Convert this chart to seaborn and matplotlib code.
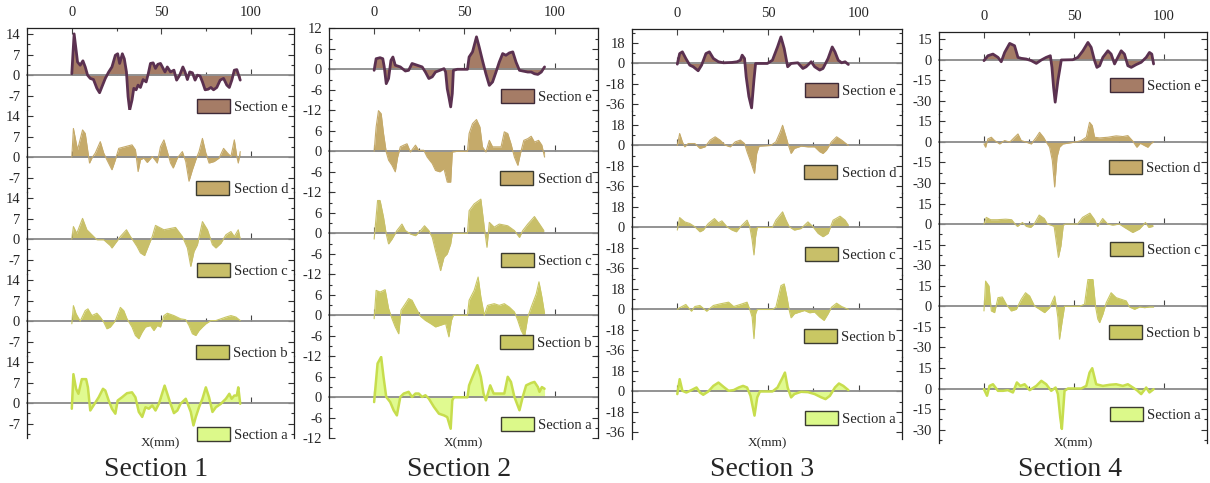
import matplotlib
matplotlib.use("Agg")
import matplotlib.pyplot as plt
from matplotlib.patches import Patch
from matplotlib.ticker import AutoMinorLocator, FixedLocator
import seaborn as sns

sns.set_theme(style="ticks")
plt.rcParams["font.family"] = ["Liberation Serif", "DejaVu Serif"]

# ---------------- data: (x in mm, deviation) ----------------
# Section 1
s1_e = [(0, 0.5), (1.3, 14.1), (3.2, 4.5), (4.7, 3.4), (6.2, 4.9), (7.5, 2.8), (8.8, 0), (10.3, -1.1), (12.1, -1.5),
        (14, -4.5), (15.5, -6), (16.8, -4), (18.7, -1.1), (20.6, 1.1), (22.4, 2.8), (24.3, 6.8), (25.6, 7.3),
        (26.7, 4), (28.2, 7.3), (29.3, 5.6), (30.5, 1.1), (31.4, -7.3), (32.3, -11.9), (33.6, -8.5), (34.6, -4.5),
        (35.9, -5), (37, -3.4), (38.3, -4.2), (39.8, -1.5), (41.5, -2.3), (42.6, 0.3), (43.9, 4), (45.4, 4.2),
        (46.7, 2.3), (48, 3.7), (49.5, 4), (50.8, 2.5), (52, 1.1), (53.3, 2.8), (55.1, 1.1), (57, 1.7), (58.5, -1.7),
        (60.2, 0), (62, 2.8), (63.2, 1.1), (64.5, -1.5), (65.8, 1.1), (67.3, 0.8), (68.8, -1.7), (70.1, 0),
        (71.6, -0.3), (72.9, -2.3), (74.4, -5), (76.1, -4.8), (77.6, -4.2), (79.1, -5), (80.9, -4.2), (82.8, -1.7),
        (84.7, -1.1), (86.5, -3.4), (87.9, -4.2), (89.3, -1.7), (90.7, 1.7), (92.1, 1.9), (93.1, 0), (94, -1.7)]
s1_d = [(0, 0), (0.9, 9.8), (3.2, 2.5), (6, 9.3), (7.5, 8.1), (9.9, -2), (11.2, -0.3), (13.1, 1.4), (15.9, 5.3),
        (17.8, 1.4), (19.6, -0.9), (22.4, -4.3), (24.3, -0.9), (26.2, 3), (29.9, 3.6), (33.6, 4.2), (35.5, 2.5),
        (37, -4.9), (38.3, -0.9), (40.2, -0.3), (42.1, -1.8), (44.9, 0.2), (46.4, -0.9), (47.7, -2), (49.5, 3.6),
        (51.4, 5.9), (53.3, 1.9), (55.1, -2), (56.6, -3.7), (58.9, -0.3), (61.7, 1.9), (63.6, -1.5), (65.4, -8.2),
        (67.3, -4.3), (69.2, -0.9), (71, 1.9), (72.9, 6.4), (74.8, 1.4), (76.6, -2), (79.4, -1.5), (82.2, -0.3),
        (84.7, 3), (86.9, 1.4), (88.8, 0.2), (90.7, 5.9), (92.1, 0.2), (92.9, -2), (94, 1.9)]
s1_c = [(0, 0), (0.9, 4.3), (2.8, 2), (6, 7.1), (8.4, 3.2), (11.2, 1.5), (14, -0.2), (17.8, -0.2), (21.5, -2.2),
        (22.4, -3), (24.3, -1.4), (27.1, 0.9), (30.5, 3.2), (32.7, 0.9), (34.6, -0.8), (36.4, -2.5), (38.3, -4.7),
        (40.6, -5.6), (43, -1.9), (44.9, 0.9), (46.7, 4.7), (51.4, 3.2), (57.9, 4), (61.7, 0.9), (64.5, -3),
        (66.4, -9.3), (68.2, -4.2), (70.1, -1.9), (72.9, 6), (75.7, 3.2), (78.5, -1.9), (80.4, -3), (83.2, -1.4),
        (86, 1.5), (88.8, 2.6), (90.7, 0.9), (92.9, 3.2), (94, 0)]
s1_b = [(0, -0.9), (0.9, 5.3), (2.4, 2.5), (4.7, 0), (7.5, 3.6), (9, 4.2), (11.2, 1.9), (14, 2.7), (15.9, 1.4),
        (17.8, -0.3), (19.6, -2.6), (21.5, -2), (24.3, 0.2), (27.1, 4.7), (29, 3.6), (30.8, 0.8), (33.6, -2),
        (35.5, -4.9), (37.4, -6), (39.3, -3.7), (41.1, -2), (43.9, -1.5), (45.8, -3.2), (47.7, -1.5), (49.5, -2),
        (51.4, 1.9), (53.3, 2.7), (57, 1.9), (60.7, 0.8), (63.6, 0.5), (65.4, -1.5), (67.3, -4.3), (69.2, -4.9),
        (71, -3.2), (72.9, -2), (74.8, -0.9), (77.6, 0.2), (80.4, 0.2), (83.2, 0.8), (86, 1.4), (88.8, 1.9),
        (91.6, 1.4), (94, 0.2)]
s1_a = [(0, -1.9), (0.9, 9.9), (2.4, 4.9), (3.7, 3.2), (5.6, 8.2), (8, 8.2), (9, 5.4), (10.3, -2.5), (12.1, -0.8),
        (15, 2), (17.4, 4.9), (18.7, 4.3), (20.6, 0.9), (22.4, -1.9), (24.3, -3.6), (25.6, 0.9), (28, 2),
        (30.8, 3.4), (33.6, 3.7), (35.5, 2), (37.4, -3), (39.3, -4.7), (41.1, -1.4), (43, -1.9), (44.9, -0.8),
        (46.7, -2.5), (48.6, -0.2), (51.8, 6), (53.3, 3.2), (55.1, -0.2), (57, -3.4), (58.9, -2.5), (60.7, -0.2),
        (63.6, 1.5), (66.4, -3), (67.9, -7.6), (69.2, -4.7), (71, -1.4), (72.9, 1.5), (74.8, 5.4), (76.6, 2),
        (78.5, -3), (80.4, -1.4), (83.2, -0.2), (86, 1.5), (87.9, 3.2), (89.2, 1.5), (90.7, 2.6), (92.1, 2.6),
        (92.9, 5.4), (94, -0.2)]
# Section 2
s2_e = [(0, -0.3), (1.1, 3.1), (3.3, 3.4), (4.8, 3.1), (5.6, 0.7), (6.7, -4.2), (8, -2.7), (9.3, 2.6), (10.4, 3.6),
        (11.7, 1.2), (14.5, 0.7), (17.3, -0.5), (19.1, -0.3), (21, 1.7), (23.8, 1.2), (26.6, 0.7), (28.4, -0.8),
        (30.3, -2.7), (32.2, -2.2), (34, -0.8), (36.4, -0.3), (38.7, 0.2), (39.6, -0.8), (40.5, -5.7), (41.4, -8.1),
        (42.4, -11), (43.3, -7.1), (43.9, -0.3), (46.1, 0), (51.7, 0), (52.6, 3.6), (54.5, 5.1), (56.7, 9.5),
        (58.2, 6.5), (60, 2.6), (61.9, -1.3), (63.8, -4.7), (65.6, -3.7), (67.5, -0.8), (69.3, 2.1), (71.2, 4.6),
        (73, 4.1), (74.9, 4.8), (76.8, 5.1), (78.6, 2.1), (80.5, -0.3), (82.3, -0.5), (85.1, -0.8), (87, -0.8),
        (88.8, -1.3), (90.7, -1.5), (92.6, -0.8), (94.4, 0.7)]
s2_d = [(0, 0), (1.1, 7.1), (2.4, 11.9), (3.9, 11), (5.2, 5.2), (6.7, -0.2), (8, -2.6), (9.9, -4.1), (11.7, -6),
        (13, -1.7), (14.5, 1.3), (16.4, 1.8), (18.2, 2.2), (20.1, -0.2), (22.9, 1.8), (24.7, 0.3), (27.5, 0.3),
        (29.4, -1.7), (32.2, -3.6), (34, -5.6), (36.4, -6), (38.7, -5.1), (40.5, -9), (42.4, -9), (43.3, -0.2),
        (46.1, 0), (51.7, 0), (52.6, 5.2), (54.5, 8.1), (56.7, 9.3), (58.6, 7.1), (60, 1.3), (61.9, -0.2),
        (63.8, 3.2), (65.6, 1.3), (68.4, 1.3), (70.3, 1.3), (72.1, 5.7), (74, 5.2), (75.8, 2.2), (77.7, -1.7),
        (79.6, -4.1), (81, -0.7), (82.9, 3.2), (85.1, 3.7), (87, 4.4), (88.8, 2.7), (91.1, 3.2), (92.9, 1.8),
        (94.4, -1.7)]
s2_c = [(0, -1.7), (1.9, 9.6), (3.3, 9.6), (5.2, 4.7), (6.7, -0.2), (8, -3.1), (9.9, -1.7), (12.6, 0.8),
        (15.4, 2.7), (17.3, 0.8), (20.1, -0.2), (22.9, -0.7), (25.7, 0.8), (27.9, 2.2), (30.3, 0.8), (32.2, -1.2),
        (34, -5.1), (35.9, -9), (36.8, -10.9), (38.7, -7), (40.5, -6), (42.4, -3.1), (43.3, 0), (51.7, 0),
        (52.6, 6.6), (55.4, 8.6), (59.1, 10), (61, 1.8), (62.5, -4.1), (63.8, 3.2), (66.5, 1.8), (69.3, 2.7),
        (74, 2.2), (77.7, 0.8), (80.5, -1.2), (82.3, 0.8), (85.1, 2.7), (88.8, 4.9), (91.6, 2.7), (94, 0.8)]
s2_b = [(0, -1), (1.1, 7.3), (3.3, 6.8), (6.1, 7.5), (8, 2), (9.9, -1), (11.7, -3.4), (13.6, -5.4), (14.9, 1.5),
        (17.3, 3.4), (19.1, 4.9), (21, 4.4), (22.9, 2.4), (25.7, -0.3), (28.4, -1.5), (31.2, -2.4), (34, -3.4),
        (36.8, -2.9), (39.6, -2.4), (40.5, -4.4), (41.4, -6.3), (42.8, -1.5), (43.9, 0), (51.7, 0), (52.6, 4.4),
        (55.4, 7.3), (57.6, 11.2), (59.1, 5.4), (61, 0), (62.8, 2.9), (66.5, 3.4), (69.3, 2.9), (72.1, 3.4),
        (74.9, 2.4), (77.7, 1), (79.6, -1.5), (81.4, -4.4), (83.3, -6.3), (85.1, -0.5), (87, 2.4), (89.8, 6.3),
        (91.3, 9.8), (92.9, 5.4), (94.4, 0.5)]
s2_a = [(0, -1.4), (1.9, 9.9), (3.9, 11.8), (5.2, 6), (6.7, 0.1), (8.9, -1.4), (10.8, -3.8), (12.6, -5.3),
        (14.5, 0.1), (16.4, 1.1), (19.1, 1.6), (21, 0.1), (22.9, 1.1), (24.7, 1.1), (26.6, 0.1), (28.4, 0.6),
        (30.3, -0.4), (33.1, -2.8), (35.9, -4.8), (38.7, -5.3), (40.5, -5.8), (42.4, -9.2), (43.3, -0.9), (44.2, 0),
        (51.7, 0), (52.6, 3.5), (54.5, 6), (57.2, 9.4), (59.1, 6), (60.6, 1.1), (61.9, -0.9), (64.3, 3.5),
        (66.2, 1.1), (69.3, 1.1), (72.1, 1.1), (74, 6), (75.8, 4.5), (77.7, 0.1), (80.5, -3.8), (82.3, 0.1),
        (84.2, 3.5), (87, 4.2), (88.8, 4.5), (90.7, 3), (91.6, 1.6), (92.9, 3), (94.4, 2.5)]
# Section 3
s3_e = [(0, -0.6), (1.3, 8.7), (2.8, 10.2), (4.7, 4.4), (6.9, -1.5), (8.8, -2.9), (11.5, -6.4), (13.4, -1.5),
        (15.8, 8.7), (17.7, 10.2), (19.9, 4.4), (22.7, 1.5), (25.5, 0.6), (30.2, 0.9), (33, 1.5), (34.8, 2.9),
        (35.8, 7.3), (37.1, 4.4), (38, -11.6), (39.5, -29), (41, -39), (42.3, -14.5), (43.2, 0), (49.7, 0),
        (52.5, 2.9), (55.3, 14.5), (57.2, 23.3), (59, 13.1), (60.9, -2.9), (62.8, 0), (66.5, 0.6), (69.3, -4.4),
        (71.1, -2.9), (73.9, 1.5), (75.8, -2.9), (78.6, -5.8), (80.4, -4.4), (83.2, 4.4), (85.5, 14.5), (87, 10.2),
        (88.8, 2.9), (90.7, 0.6), (92.6, 1.5), (94.4, -0.9)]
s3_d = [(0, 0), (1.3, 10.5), (2.8, 3.2), (4.1, -1.2), (6, 1.7), (9.7, 1.7), (12.5, -2.6), (15.3, -1.2), (18.1, 4.7),
        (20.9, 7.6), (23.6, 4.7), (26.4, 0.3), (29.2, -1.2), (32, 3.2), (34.8, 4.7), (37.1, 1.7), (38.5, -5.5),
        (40.8, -15.7), (42.6, -24.4), (43.8, -7), (45.1, -0.6), (51.6, 0), (54.4, 3.2), (56.8, 11.9), (58.1, 17.7),
        (60, 7.6), (61.3, 0.3), (62.8, -7), (64.6, -2.6), (68.3, -0.6), (72.1, -1.2), (75.8, -1.2), (78.6, -5.5),
        (80.4, -7), (82.3, -4.1), (85.1, 3.2), (87.9, 7.6), (90.7, 4.7), (94.4, 0)]
s3_c = [(0, -2.3), (1.3, 8.7), (4.1, 4.9), (6.9, 3.5), (9.7, 0.6), (12.5, -3.8), (14.3, -2.3), (17.1, 3.5),
        (20.5, 7.8), (22.7, 4.1), (24.6, 5.8), (27.4, 0.6), (30.2, -2.3), (32.6, -3.8), (34.8, 0.6), (38.5, 6.4),
        (40, 0.6), (41.3, -11), (42.3, -24.1), (43.2, -8.1), (44.1, 0), (52.5, 0), (54.4, 6.4), (58.1, 13.7),
        (60, 6.4), (61.8, 0.6), (64.6, -2.3), (68.3, -0.9), (72.1, 4.9), (74.9, 0.6), (77.7, -5.2), (80.4, -8.1),
        (83.2, -5.2), (86, 6.4), (89.8, 9.9), (92.6, 6.4), (94.4, 2)]
s3_b = [(0, 0), (1.3, 1.5), (4.7, 4.4), (7.8, -1.5), (9.7, 2.6), (12.5, 3.5), (16.2, -1.5), (19.9, 3.5),
        (23.6, 4.9), (28.3, 6.4), (31.1, 2.6), (34.8, 4.4), (38.5, 6.4), (40, 0), (41.3, -6.7), (42.3, -25.6),
        (43.2, -3.8), (44.1, 0), (52.5, 0), (54.4, 2), (57.2, 20.9), (59, 22.4), (60.5, 10.8), (61.8, -0.9),
        (62.8, -7.3), (64.6, -3.8), (67.4, -2.3), (70.2, -0.9), (73, -2.9), (75.8, -2.3), (78.6, -6.7), (81, -9.6),
        (83.2, -3.8), (85.1, 2), (87.9, 5.5), (90.7, 2.6), (94.4, 0)]
s3_a = [(0, -2.3), (1.3, 10.8), (2.8, 0.6), (5, -0.9), (7.8, 1.2), (10.6, 3.5), (12.5, -0.9), (14.3, -2.9),
        (17.1, 0), (19.9, 4.9), (22.7, 7.8), (25.5, 4.1), (28.3, 0.6), (31.1, 1.2), (33.9, 3.5), (36.3, 4.9),
        (38.5, 3.5), (40.4, -3.8), (41.3, -11), (42.6, -21.2), (44.1, -5.2), (45.6, 0), (52.5, 0), (55.3, 3.5),
        (58.1, 12.2), (59.4, 16.6), (60.9, 3.5), (62.8, -5.2), (64.6, -2.3), (68.3, -0.3), (72.1, -0.6),
        (75.8, -2.3), (79.5, -5.2), (81.8, -6.7), (84.2, -3.8), (87, 3.5), (89.2, 7), (91.6, 4.9), (94.4, 1.2)]
# Section 4
s4_e = [(0, -0.7), (2.2, 2.9), (5, 4.1), (7.8, 1.7), (9.6, -1.5), (11.5, 5.3), (14.3, 11.9), (17, 10.2),
        (18.9, 1.7), (20.7, 1), (23.5, 0.5), (26.3, -0.7), (29.1, -2.7), (31.9, -0.2), (34.6, 1.7), (36.9, 2.9),
        (37.8, -5.6), (38.7, -20.1), (39.6, -31), (41.1, -15.3), (43, -0.2), (49.4, 0), (52.2, 1.7), (55, 6.5),
        (57.8, 12.6), (59.6, 9), (61.5, -0.7), (62.8, -5.6), (64.3, -4.4), (66.1, 1.7), (68.9, 6.5), (70.7, 4.1),
        (72.6, -3.1), (74.4, 1.7), (76.3, 6.5), (78.1, 4.1), (80, -4.4), (81.9, -5.6), (84.6, -3.6), (87.4, -1.9),
        (90.2, 1.7), (92, 5.3), (93.3, 4.1), (94.3, -3.1)]
s4_d = [(0, -1.5), (0.9, -3.9), (2.2, 2.2), (4.1, 3.4), (5.9, 1), (8.7, -1.5), (11.5, 1), (14.3, -0.2), (17, 3.4),
        (18.9, 5.8), (20.7, 1), (23.5, -0.2), (26.3, -1.5), (29.1, 3.4), (30.9, 7), (33.1, 3.4), (34.6, 0),
        (36.5, -3.9), (38, -13.6), (39.3, -32.9), (40.6, -11.1), (42, -3.9), (43.9, -1.5), (51.3, 0), (54.1, 1),
        (56.9, 3.4), (58.7, 14.3), (60.2, 11.9), (61.5, 3.4), (64.3, 2.9), (68.9, 3.4), (73.5, 4.4), (77.2, 3.9),
        (80, 4.6), (82.8, 0.5), (85, -3.9), (86.9, -1), (89.3, -2.7), (91.1, -3.9), (93, -1), (94.3, 0)]
s4_c = [(0, 0), (1.3, 4.9), (3.7, 3.2), (7.4, 3.2), (12.1, 3.6), (15.4, 3.2), (17.3, 0), (18.6, -1.7), (21.4, 1.2),
        (23.6, -1.7), (26, -2.4), (27.9, 0), (30.7, 6.6), (33.5, 4.1), (35.3, 0), (37.2, -0.7), (39, -1.7),
        (40, -10.9), (41.4, -24.3), (42.8, -15.8), (44.1, -0.7), (45.5, 0), (52, 0), (54.8, 4.9), (58.9, 8),
        (61.3, 3.6), (63.2, -1.7), (66, 4.1), (68.8, 0), (71.6, -0.7), (75.3, 0), (78.1, -2.4), (82.7, -6.1),
        (86.4, -3.6), (89.8, 1.2), (91.6, -2.4), (93.9, -1.7)]
s4_b = [(0, -3.4), (0.9, 18.4), (2.8, 14.8), (4.1, -3.4), (5.9, -4.6), (7.8, 6.3), (10.2, 6.8), (12.4, 1.5),
        (15.2, -3.4), (18, -2.2), (20.7, 5.1), (23.1, 9.9), (25.4, 7.5), (28.1, 0.2), (30.9, -2.2), (33.7, -4.6),
        (36.5, -1), (39.3, 7.5), (40.2, 0.2), (41.1, -8.2), (42, -24), (43.5, -10.7), (44.8, 0), (53.1, 0),
        (55.9, 1.5), (57.8, 19.6), (60.6, 19.6), (62, 0.2), (63.3, -9.4), (64.3, -11.9), (66.1, -5.8), (68, 2.7),
        (70.7, 9.9), (73.5, 6.3), (76.3, 5.1), (79.1, 3.9), (80.9, -0.5), (83.7, -2.2), (86.5, -0.5), (89.3, -1),
        (92, -0.5), (94.3, -0.5)]
s4_a = [(0, -0.5), (1.7, -5.3), (3.1, 1.9), (5, 3.1), (7.8, -1.7), (10.6, -1.7), (13.3, -1.2), (16.1, -2.9),
        (18.3, 4.4), (20.2, 1.9), (22.6, 3.1), (25.4, -1.2), (29.1, 1.9), (31.9, 5.6), (34.6, 3.1), (37.4, -1.7),
        (39.8, 0.7), (41.1, -4.1), (42.4, -21.1), (43.3, -29.5), (44.8, -1.7), (46.7, 0), (54.1, 0), (56.9, 1.9),
        (58.7, 11.6), (60.2, 14.8), (62.4, 3.1), (66.1, 1.9), (69.8, 2.7), (73.5, 3.1), (77.2, 1.9), (80, 3.1),
        (82.8, 0.7), (85, -1.2), (87.4, -4.1), (90.2, 0.7), (92, -2.9), (94.3, -0.5)]

band_names = ["e", "d", "c", "b", "a"]
panel_titles = ["Section 1", "Section 2", "Section 3", "Section 4"]
panel_series = [[s1_e, s1_d, s1_c, s1_b, s1_a],
                [s2_e, s2_d, s2_c, s2_b, s2_a],
                [s3_e, s3_d, s3_c, s3_b, s3_a],
                [s4_e, s4_d, s4_c, s4_b, s4_a]]
panel_ylims = [(-12, 16), (-12, 12), (-42, 30), (-40, 20)]
panel_ticks = [[-7, 0, 7, 14], [-12, -6, 0, 6, 12], [-36, -18, 0, 18], [-30, -15, 0, 15]]
x_ticks = [0, 50, 100]

# ---------------- style ----------------
fill_colors = {"e": "#a57c66", "d": "#c5aa6a", "c": "#c8bf69", "b": "#c9c763", "a": "#e0fa90"}
line_colors = {"e": "#5b3150", "d": "#c5aa6a", "c": "#c8bf69", "b": "#c9c763", "a": "#c7dd4d"}
line_widths = {"e": 2.0, "d": 0.8, "c": 0.8, "b": 0.8, "a": 1.8}
edge_colors = {"e": "#3e2a38", "d": "#3b3b30", "c": "#3b3b30", "b": "#3b3b30", "a": "#3b3b30"}

W, H = 1210, 483
fig = plt.figure(figsize=(W / 100, H / 100), dpi=100)

panel_left = [27, 329, 632, 939]
panel_width = [267, 269, 270, 268]
panel_top = [28.3, 28.3, 29.3, 32.3]
band_h = [82, 82, 82, 82.2]
legend_off = [4, 14, 21, 29]
title_cx = [156, 459, 762, 1070]

for p in range(4):
    lo, hi = panel_ylims[p]
    for k, name in enumerate(band_names):
        top_px = panel_top[p] + k * band_h[p]
        ax = fig.add_axes([panel_left[p] / W, 1 - (top_px + band_h[p]) / H,
                           panel_width[p] / W, band_h[p] / H])
        ax.patch.set_alpha(0)
        pts = panel_series[p][k]
        xs = [q[0] for q in pts]
        ys = [q[1] for q in pts]
        ax.fill_between(xs, 0, ys, color=fill_colors[name], linewidth=0, zorder=1)
        sns.lineplot(x=xs, y=ys, ax=ax, color=line_colors[name], linewidth=line_widths[name],
                     estimator=None, sort=False, legend=False, zorder=2)
        ax.set_xlim(-25, 124)
        ax.set_ylim(lo, hi)
        ax.set_xlabel("")
        ax.set_ylabel("")
        # spines
        for s in ["left", "right", "top"]:
            ax.spines[s].set_color("#222222")
            ax.spines[s].set_linewidth(0.9)
        ax.spines["top"].set_visible(k == 0)
        ax.spines["bottom"].set_position(("data", 0))
        ax.spines["bottom"].set_color("#8a8a8a")
        ax.spines["bottom"].set_linewidth(1.3)
        ax.spines["bottom"].set_zorder(1.5)
        # x ticks
        ax.xaxis.set_major_locator(FixedLocator(x_ticks))
        ax.xaxis.set_minor_locator(AutoMinorLocator(2))
        ax.tick_params(axis="x", which="both", direction="in", top=(k == 0), bottom=True,
                       labeltop=(k == 0), labelbottom=False, color="#444444", width=0.8)
        ax.tick_params(axis="x", which="major", length=4.5, pad=6.5, labelsize=10.5)
        ax.tick_params(axis="x", which="minor", length=2.5)
        # y ticks
        yt = panel_ticks[p]
        if p == 1 and k > 0:
            yt = [t for t in yt if t != 12]
        ax.yaxis.set_major_locator(FixedLocator(yt))
        ax.yaxis.set_minor_locator(AutoMinorLocator(2))
        ax.tick_params(axis="y", which="both", direction="in", left=True, right=True,
                       labelleft=True, labelright=False, color="#333333", width=0.8)
        ax.tick_params(axis="y", which="major", length=4, pad=5, labelsize=10.5)
        ax.tick_params(axis="y", which="minor", length=2.5)
        ax.set_yticklabels([str(t) for t in yt])
        # legend
        handle = Patch(facecolor=fill_colors[name] if name != "a" else "#dcf98a",
                       edgecolor=edge_colors[name], linewidth=1.0, label=f"Section {name}")
        ax.legend(handles=[handle], loc="center right",
                  bbox_to_anchor=(1 - 6 / panel_width[p], legend_off[p] / band_h[p]),
                  frameon=False, borderpad=0, borderaxespad=0, handlelength=2.26,
                  handleheight=1.1, handletextpad=0.3, fontsize=10.5)

    cx = panel_left[p] + panel_width[p] / 2
    fig.text(cx / W, 1 - 446 / H, "X(mm)", ha="center", va="baseline", fontsize=9.5)
    fig.text(title_cx[p] / W, 1 - 476.5 / H, panel_titles[p], ha="center", va="baseline", fontsize=20)

fig.savefig("out.png", dpi=100)
